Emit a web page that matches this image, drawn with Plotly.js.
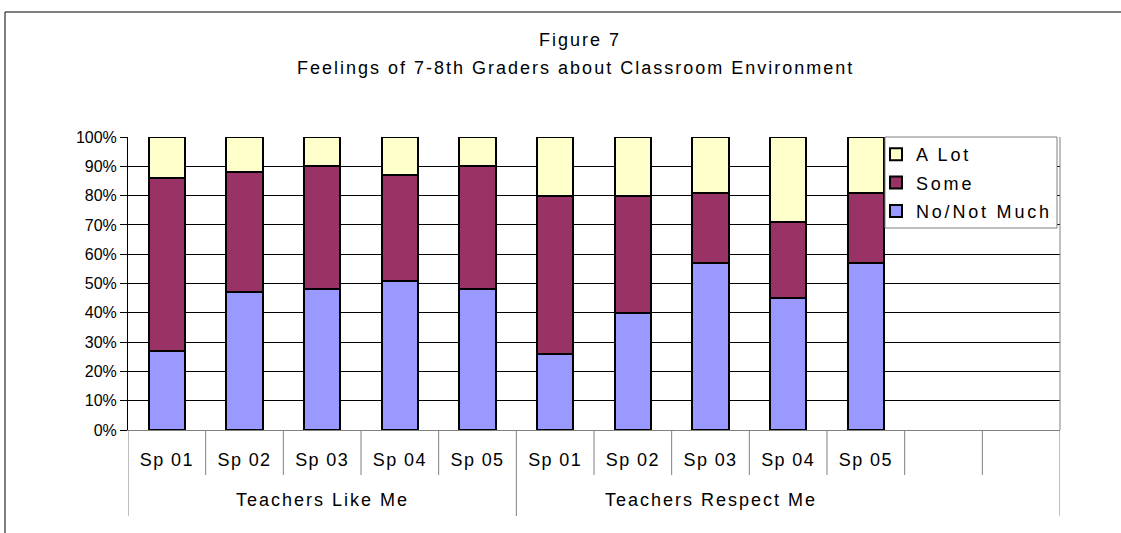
<!DOCTYPE html>
<html>
<head>
<meta charset="utf-8">
<script src="https://cdn.plot.ly/plotly-3.0.1.min.js"></script>
<style>
html, body { margin: 0; padding: 0; background: #fff; }
#chart { width: 1121px; height: 533px; }
.xtick text { letter-spacing: 1.4px; }
.annotation-text, .gtitle { letter-spacing: 2px; }
.legendtext { letter-spacing: 2.8px; }
</style>
</head>
<body>
<div id="chart"></div>
<script>
// Category slots (12 slots, last two empty)
const slotIds = ["L1","L2","L3","L4","L5","R1","R2","R3","R4","R5","E1","E2"];
const slotLabels = ["Sp 01","Sp 02","Sp 03","Sp 04","Sp 05","Sp 01","Sp 02","Sp 03","Sp 04","Sp 05","",""];
const groupLabels = ["Teachers Like Me","Teachers Respect Me"];
const groupCenters = [2, 7];
const titleLine1 = "Figure 7";
const titleLine2 = "Feelings of 7-8th Graders about Classroom Environment";

// Series values (percent)
const noNotMuch = [27, 47, 48, 51, 48, 26, 40, 57, 45, 57, null, null];
const some      = [59, 41, 42, 36, 42, 54, 40, 24, 26, 24, null, null];
const aLot      = [14, 12, 10, 13, 10, 20, 20, 19, 29, 19, null, null];

const yTicks = [0,10,20,30,40,50,60,70,80,90,100];
const yTickText = yTicks.map(v => v + "%");

const FONT = "Liberation Sans, Arial, sans-serif";
const line = {color: "#000", width: 2};

const traces = [
  {type: "bar", name: "No/Not Much", legendgroup: "g1", legendrank: 3, x: slotIds, y: noNotMuch, marker: {color: "#9999FF", line: line}},
  {type: "bar", name: "Some", legendgroup: "g2", legendrank: 2, x: slotIds, y: some, marker: {color: "#993366", line: line}},
  {type: "bar", name: "A Lot", legendgroup: "g3", legendrank: 1, x: slotIds, y: aLot, marker: {color: "#FFFFCC", line: line}}
];

// Plot area geometry
const L = 128, R = 1060, T = 137, B = 430, W = 1121, H = 533;
const pw = R - L, ph = B - T;
const py = px => (B - px) / ph;   // pixel y -> paper y
const pxx = px => (px - L) / pw;  // pixel x -> paper x

const shapes = [];
// Divider lines under the category axis
for (let i = 0; i <= slotIds.length; i++) {
  const long = (i === 0 || i === 5 || i === slotIds.length);
  shapes.push({type: "line", xref: "x", yref: "paper", x0: i - 0.5, x1: i - 0.5,
    y0: 0, y1: py(long ? 516 : 475), line: {color: "#808080", width: 1}});
}
// Right border of plot area
shapes.push({type: "line", xref: "paper", yref: "paper", x0: 1, x1: 1, y0: 0, y1: 1, line: {color: "#808080", width: 1}});
// Legend box
shapes.push({type: "rect", xref: "paper", yref: "paper", x0: pxx(885), x1: pxx(1057), y0: py(228), y1: 1,
  fillcolor: "#fff", line: {color: "#808080", width: 1}, layer: "above"});
// Outer chart frame (top and left edges visible)
shapes.push({type: "line", xref: "paper", yref: "paper", x0: pxx(5), x1: pxx(1125), y0: py(12), y1: py(12), line: {color: "#000", width: 1}});
shapes.push({type: "line", xref: "paper", yref: "paper", x0: pxx(5), x1: pxx(5), y0: py(12), y1: py(540), line: {color: "#000", width: 1}});

const annotations = groupLabels.map((t, i) => ({
  text: t, x: groupCenters[i], xref: "x", y: py(500), yref: "paper", yanchor: "middle",
  showarrow: false, font: {family: FONT, size: 18, color: "#000"}
}));
annotations.push({text: titleLine2, xref: "paper", x: pxx(575), xanchor: "center",
  yref: "paper", y: py(68), yanchor: "middle", showarrow: false,
  font: {family: FONT, size: 18, color: "#000"}});

const layout = {
  width: W, height: H,
  margin: {l: L, r: W - R, t: T, b: H - B, pad: 0},
  paper_bgcolor: "#fff", plot_bgcolor: "#fff",
  barmode: "stack", bargap: 0.53,
  showlegend: true,
  title: {text: titleLine1,
    font: {family: FONT, size: 18, color: "#000"}, xref: "container", x: 580 / W, xanchor: "center",
    yref: "container", y: 1 - 40 / H, yanchor: "middle"},
  legend: {x: pxx(876), xanchor: "left", y: py(136), yanchor: "top", traceorder: "grouped",
    tracegroupgap: 2, borderwidth: 0, bgcolor: "rgba(0,0,0,0)",
    font: {family: FONT, size: 18, color: "#000"}},
  xaxis: {type: "category", categoryorder: "array", categoryarray: slotIds,
    tickvals: slotIds, ticktext: slotLabels, range: [-0.5, 11.5],
    ticks: "outside", ticklen: 13, tickcolor: "rgba(0,0,0,0)",
    showline: true, linecolor: "#808080", linewidth: 1, showgrid: false, zeroline: false,
    tickfont: {family: FONT, size: 18, color: "#000"}},
  yaxis: {range: [0, 100], tickvals: yTicks, ticktext: yTickText,
    ticks: "outside", ticklen: 7, tickcolor: "#000",
    showline: true, linecolor: "#000", linewidth: 1,
    showgrid: true, gridcolor: "#000", gridwidth: 1, zeroline: false,
    tickfont: {family: FONT, size: 16, color: "#000"}},
  shapes: shapes,
  annotations: annotations,
  font: {family: FONT}
};

Plotly.newPlot("chart", traces, layout, {displayModeBar: false, staticPlot: true});
</script>
</body>
</html>
